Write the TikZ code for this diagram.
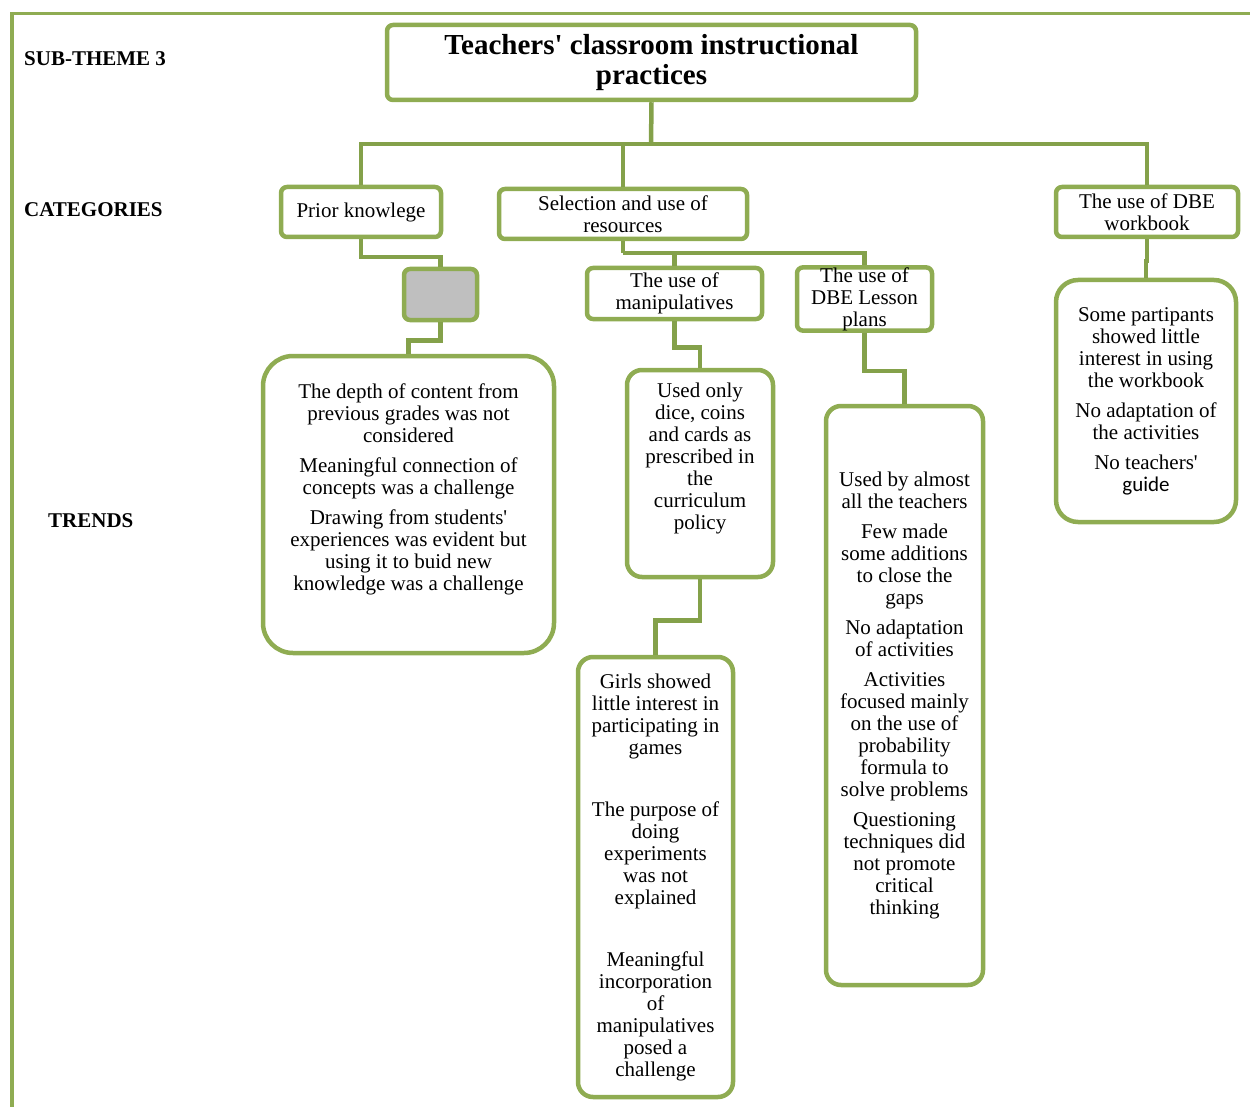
\documentclass[tikz,border=0pt]{standalone}
\usepackage{fontspec}
\setmainfont{Liberation Serif}
\newfontfamily\guidefont{Carlito}
\definecolor{boxgreen}{RGB}{143,172,82}
\definecolor{linegreen}{RGB}{132,161,74}
\definecolor{greyfill}{RGB}{191,191,191}
\tikzset{
  body/.style={font=\fontsize{21}{22}\selectfont, align=center, inner sep=0pt},
  box/.style={draw=boxgreen, line width=4.5pt, rounded corners=#1, fill=white, body},
  box/.default=6pt,
  conn/.style={draw=linegreen, line width=4.5pt},
  framerule/.style={draw=boxgreen},
  rowlabel/.style={anchor=west, inner sep=0pt, font=\fontsize{21}{22}\selectfont\bfseries},
}
\begin{document}
\begin{tikzpicture}[x=1pt, y=-1pt]
\useasboundingbox (0,0) rectangle (1250,1107);

% outer frame
\draw[framerule, line width=3pt] (10,14) -- (1250,14);
\draw[framerule, line width=4.5pt] (12,14) -- (12,1107);

% row labels
\node[rowlabel] (lsub) at (24,59) {SUB-THEME 3};
\node[rowlabel] (lcat) at (24,210) {CATEGORIES};
\node[rowlabel] (ltr) at (48,521) {TRENDS};

% theme
\node[box, minimum width=529pt, minimum height=75pt,
      font=\fontsize{29}{30}\selectfont\bfseries] (title) at (651.5,62.5)
  {Teachers\textquotesingle{} classroom instructional\\practices};

% categories
\node[box, minimum width=160pt, minimum height=50pt] (prior) at (361,212) {Prior knowlege};
\node[box, minimum width=248pt, minimum height=50pt] (select) at (623,214) {Selection and use of\\resources};
\node[box, minimum width=182pt, minimum height=50pt] (workbook) at (1147,212) {The use of DBE\\workbook};

% sub-categories
\node[box, fill=greyfill, minimum width=73pt, minimum height=51pt] (grey) at (440.5,294.5) {};
\node[box, minimum width=175pt, minimum height=51pt] (manip) at (674.5,293.5) {The use of\\manipulatives};
\node[box, minimum width=135pt, minimum height=62pt] (lesson) at (864.5,299) {The use of\\DBE Lesson\\plans};

% trends
\node[box=30pt, minimum width=291pt, minimum height=297pt] (trend1) at (408.5,504.5) {};
\node[body] (trend1text) at (408.5,489.5) {The depth of content from\\previous grades was not\\considered\\[8pt]
  Meaningful connection of\\concepts was a challenge\\[8pt]
  Drawing from students\textquotesingle\\experiences was evident but\\using it to buid new\\knowledge was a challenge};

\node[box=15pt, minimum width=146pt, minimum height=207pt] (dice) at (700,473.5) {};
\node[body] (dicetext) at (700,458.5) {Used only\\dice, coins\\and cards as\\prescribed in\\the\\curriculum\\policy};

\node[box=15pt, minimum width=155pt, minimum height=440pt] (girls) at (655.5,877)
  {Girls showed\\little interest in\\participating in\\games\\[40pt]
   The purpose of\\doing\\experiments\\was not\\explained\\[40pt]
   Meaningful\\incorporation\\of\\manipulatives\\posed a\\challenge};

\node[box=15pt, minimum width=157pt, minimum height=579pt] (almost) at (904.5,695.5)
  {Used by almost\\all the teachers\\[8pt]
   Few made\\some additions\\to close the\\gaps\\[8pt]
   No adaptation\\of activities\\[8pt]
   Activities\\focused mainly\\on the use of\\probability\\formula to\\solve problems\\[8pt]
   Questioning\\techniques did\\not promote\\critical\\thinking};

\node[box=22pt, minimum width=180pt, minimum height=242pt] (partic) at (1146,401)
  {Some partipants\\showed little\\interest in using\\the workbook\\[8pt]
   No adaptation of\\the activities\\[8pt]
   No teachers\textquotesingle\\{\guidefont guide}};

% connectors
\coordinate (bar) at (651,144);
\coordinate (split) at (623,253);
\draw[conn] (title.south) -- (bar);
\draw[conn] (bar) -| (prior.north);
\draw[conn] (bar) -| (select.north);
\draw[conn] (bar) -| (workbook.north);
\draw[conn] (prior.south) -- ++(0,18) -| (grey.north);
\draw[conn] (grey.south) -- ++(0,18) -| (trend1.north);
\draw[conn] (select.south) -- (split);
\draw[conn] (split) -| (manip.north);
\draw[conn] (split) -| (lesson.north);
\draw[conn] (manip.south) -- ++(0,26) -| (dice.north);
\draw[conn] (dice.south) -- ++(0,41) -| (girls.north);
\draw[conn] (lesson.south) -- ++(0,38) -| (almost.north);
\draw[conn] (workbook.south) -- ++(0,22) -| (partic.north);
\end{tikzpicture}
\end{document}
